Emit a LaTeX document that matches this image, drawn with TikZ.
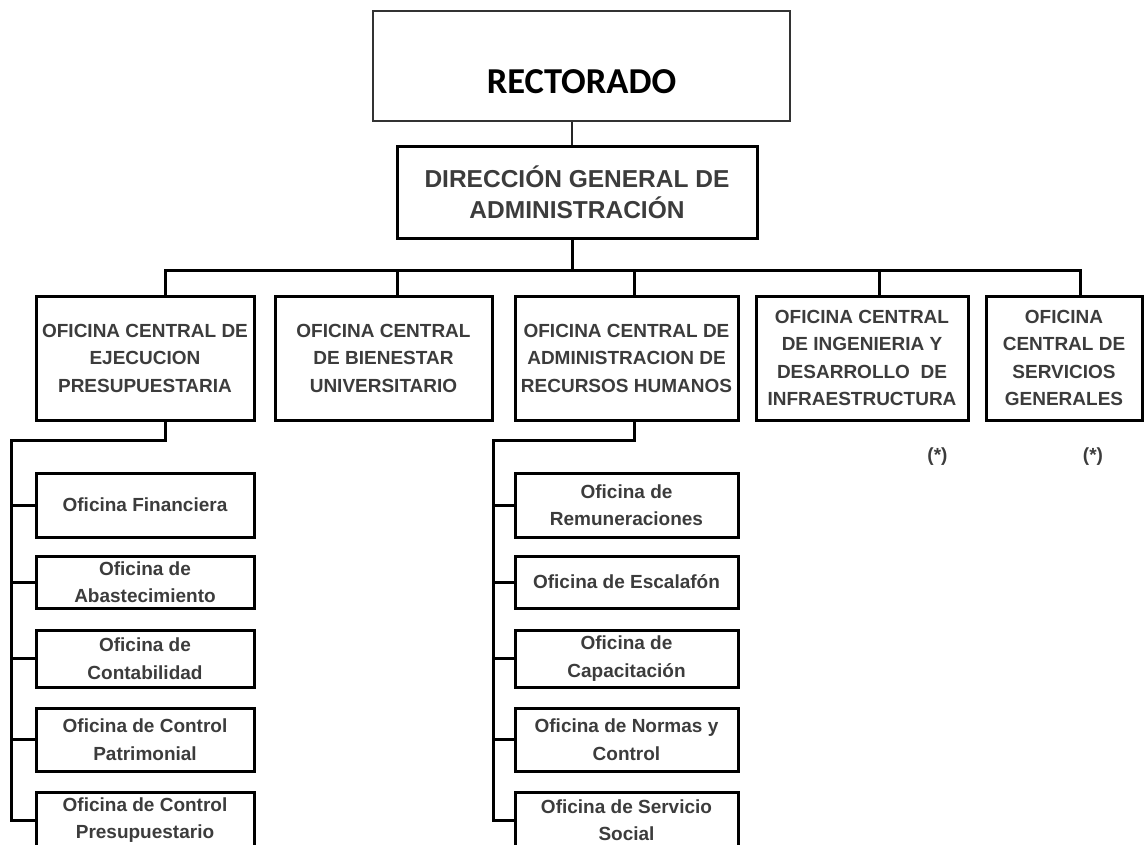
\documentclass[tikz,border=0pt]{standalone}
\usepackage{fontspec}
\setmainfont{Liberation Sans}
\newfontfamily\calibri{Carlito}
\definecolor{txtgray}{RGB}{60,60,60}
\begin{document}
\begin{tikzpicture}[x=1pt,y=-1pt,
		box/.style={draw,line width=3pt,inner sep=0pt,align=center,text=txtgray,
			font=\fontsize{19}{27.5}\selectfont\bfseries},
		unit/.style={box,minimum height=124pt},
		office/.style={box},
		link/.style={line width=3pt},
		note/.style={text=txtgray,font=\fontsize{19}{22}\selectfont\bfseries} ]
	\useasboundingbox (0,0) rectangle (1144,844);
	\clip (0,0) rectangle (1144,844);
	\node [draw=black!80,line width=1.8pt,inner sep=0pt,minimum width=417pt,minimum height=110pt,
		text height=54pt,text depth=0pt,font=\calibri\bfseries\fontsize{36.5}{40}\selectfont] (rect) at (581.5,66) {RECTORADO};
	\node [box,minimum width=360pt,minimum height=92pt,font=\fontsize{24.5}{31}\selectfont\bfseries] (dga) at (577,192)
		{DIRECCIÓN GENERAL DE\\ADMINISTRACIÓN};
	\node [unit,minimum width=218pt] (b1) at (145,358) {OFICINA CENTRAL DE\\EJECUCION\\PRESUPUESTARIA};
	\node [unit,minimum width=217pt] (b2) at (383.5,358) {OFICINA CENTRAL\\DE BIENESTAR\\UNIVERSITARIO};
	\node [unit,minimum width=223pt] (b3) at (626.5,358) {OFICINA CENTRAL DE\\ADMINISTRACION DE\\RECURSOS HUMANOS};
	\node [unit,minimum width=212pt] (b4) at (862,358) {OFICINA CENTRAL\\DE INGENIERIA Y\\DESARROLLO~ DE\\INFRAESTRUCTURA};
	\node [unit,minimum width=156pt] (b5) at (1064,358) {OFICINA\\CENTRAL DE\\SERVICIOS\\GENERALES};
	\node [note] (n4) at (937.5,457) {(*)};
	\node [note] (n5) at (1093,457) {(*)};
	\node [office,minimum width=218pt,minimum height=64pt] (fa) at (145,505) {Oficina Financiera};
	\node [office,minimum width=218pt,minimum height=52pt] (fb) at (145,582) {Oficina de\\Abastecimiento};
	\node [office,minimum width=218pt,minimum height=57pt] (fc) at (145,658.5) {Oficina de\\Contabilidad};
	\node [office,minimum width=218pt,minimum height=63pt] (fd) at (145,739.5) {Oficina de Control\\Patrimonial};
	\node [office,minimum width=218pt,minimum height=56pt] (fe) at (145,820) {Oficina de Control\\Presupuestario};
	\node [office,minimum width=223pt,minimum height=64pt] (ra) at (626.5,505) {Oficina de\\Remuneraciones};
	\node [office,minimum width=223pt,minimum height=52pt] (rb) at (626.5,582) {Oficina de Escalafón};
	\node [office,minimum width=223pt,minimum height=57pt] (rc) at (626.5,658.5) {Oficina de\\Capacitación};
	\node [office,minimum width=223pt,minimum height=63pt] (rd) at (626.5,739.5) {Oficina de Normas y\\Control};
	\node [office,minimum width=223pt,minimum height=56pt] (re) at (626.5,820) {Oficina de Servicio\\Social};
	\coordinate (t0) at (572,270);
	\coordinate (t1) at (165,270);
	\coordinate (t2) at (397,270);
	\coordinate (t3) at (634,270);
	\coordinate (t4) at (879,270);
	\coordinate (t5) at (1080,270);
	\coordinate (e1) at (165,440);
	\coordinate (s1) at (11,440);
	\coordinate (e3) at (634,440);
	\coordinate (s3) at (493,440);
	\draw [line width=1.8pt,black!85] (rect.south -| t0) -- (dga.north -| t0);
	\draw [link] (dga.south -| t0) -- (t0);
	\draw [link] (t1 |- b1.north) -- (t1) -- (t5) -- (t5 |- b5.north);
	\foreach \i in {2,3,4}
		\draw [link] (t\i) -- (t\i |- b\i.north);
	\draw [link] (e1 |- b1.south) -- (e1) -- (s1) -- (s1 |- fe.west) -- (fe.west);
	\foreach \n in {fa,fb,fc,fd}
		\draw [link] (s1 |- \n.west) -- (\n.west);
	\draw [link] (e3 |- b3.south) -- (e3) -- (s3) -- (s3 |- re.west) -- (re.west);
	\foreach \n in {ra,rb,rc,rd}
		\draw [link] (s3 |- \n.west) -- (\n.west);
\end{tikzpicture}
\end{document}
